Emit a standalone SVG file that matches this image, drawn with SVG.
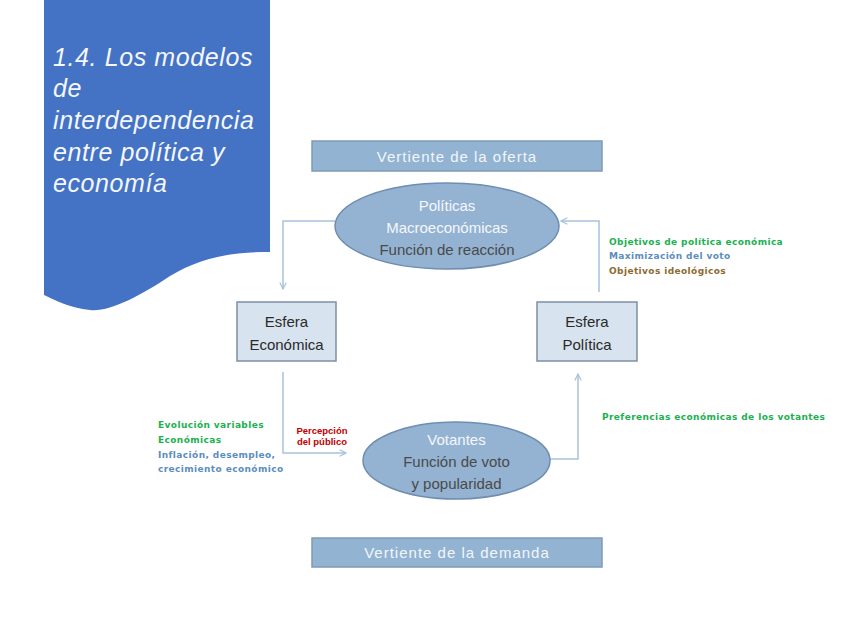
<svg xmlns="http://www.w3.org/2000/svg" width="848" height="636" viewBox="0 0 848 636">
<defs>
<style>
.title{font-family:"Liberation Sans",sans-serif;font-style:italic;font-size:25px;letter-spacing:0.6px;fill:#f4f7fc}
.band{fill:#93b3d2;stroke:#7f9ab5;stroke-width:1.5}
.bandt{font-family:"Liberation Sans",sans-serif;font-size:15px;fill:#f2f6fa;letter-spacing:1px;text-anchor:middle}
.ell{fill:#94b3d2;stroke:#6e8db0;stroke-width:1.5}
.box{fill:#d7e3ef;stroke:#7f8fa2;stroke-width:1.5}
.nt{font-family:"Liberation Sans",sans-serif;font-size:15px;text-anchor:middle}
.w{fill:#f4f7fb}
.d{fill:#4a4a4a}
.k{fill:#2a2a2a}
.sm{font-family:"DejaVu Sans",sans-serif;font-size:9px;font-weight:bold;letter-spacing:0.4px}
.g{fill:#20b050}
.b{fill:#5b8dc0}
.br{fill:#8c6a30}
.r{font-family:"Liberation Sans Narrow","Liberation Sans",sans-serif;font-size:9.5px;font-weight:bold;fill:#c00000;text-anchor:middle}
.con{fill:none;stroke:#a9c1da;stroke-width:1.5}
</style>
<marker id="ah" viewBox="0 0 10 10" refX="9" refY="5" markerWidth="8" markerHeight="8" orient="auto" markerUnits="userSpaceOnUse">
<path d="M1,1 L9,5 L1,9" fill="none" stroke="#a9c1da" stroke-width="1.5"/>
</marker>
</defs>
<rect width="848" height="636" fill="#ffffff"/>
<g id="banner">
<path d="M44,0 H270 V252 C230,252 200,258 170,276 C140,296 110,312 90,310 C70,308 55,300 44,295 Z" fill="#4472c4"/>
<text class="title" x="53" y="66">1.4. Los modelos</text>
<text class="title" x="53" y="97">de</text>
<text class="title" x="53" y="129">interdependencia</text>
<text class="title" x="53" y="161">entre política y</text>
<text class="title" x="53" y="192">economía</text>
</g>
<g id="connectors">
<path class="con" d="M335,221 H283 V289" marker-end="url(#ah)"/>
<path class="con" d="M599,292 V221 H561" marker-end="url(#ah)"/>
<path class="con" d="M283,372 V453 H346" marker-end="url(#ah)"/>
<path class="con" d="M550,459 H578 V374" marker-end="url(#ah)"/>
</g>
<g id="oferta">
<rect class="band" x="312" y="141" width="290" height="30"/>
<text class="bandt" x="457" y="162">Vertiente de la oferta</text>
</g>
<g id="politicas">
<ellipse class="ell" cx="447" cy="226" rx="112" ry="43"/>
<text class="nt w" x="447" y="211">Políticas</text>
<text class="nt w" x="447" y="233">Macroeconómicas</text>
<text class="nt d" x="447" y="255">Función de reacción</text>
</g>
<g id="esfera-economica">
<rect class="box" x="237" y="302" width="99" height="59"/>
<text class="nt k" x="286.5" y="327">Esfera</text>
<text class="nt k" x="286.5" y="350">Económica</text>
</g>
<g id="esfera-politica">
<rect class="box" x="537" y="302" width="100" height="59"/>
<text class="nt k" x="587" y="327">Esfera</text>
<text class="nt k" x="587" y="350">Política</text>
</g>
<g id="votantes">
<ellipse class="ell" cx="456.5" cy="460.5" rx="93.5" ry="38.5"/>
<text class="nt w" x="456.5" y="445">Votantes</text>
<text class="nt d" x="456.5" y="467">Función de voto</text>
<text class="nt d" x="456.5" y="489">y popularidad</text>
</g>
<g id="demanda">
<rect class="band" x="312" y="538" width="290" height="29"/>
<text class="bandt" x="457" y="558">Vertiente de la demanda</text>
</g>
<g id="labels">
<text class="sm g" x="609" y="245">Objetivos de política económica</text>
<text class="sm b" x="609" y="259">Maximización del voto</text>
<text class="sm br" x="609" y="274">Objetivos ideológicos</text>
<text class="sm g" x="602" y="420">Preferencias económicas de los votantes</text>
<text class="sm g" x="158" y="428">Evolución variables</text>
<text class="sm g" x="158" y="443">Económicas</text>
<text class="sm b" x="158" y="458">Inflación, desempleo,</text>
<text class="sm b" x="158" y="472">crecimiento económico</text>
<text class="r" x="322" y="434">Percepción</text>
<text class="r" x="322" y="445">del público</text>
</g>
</svg>
